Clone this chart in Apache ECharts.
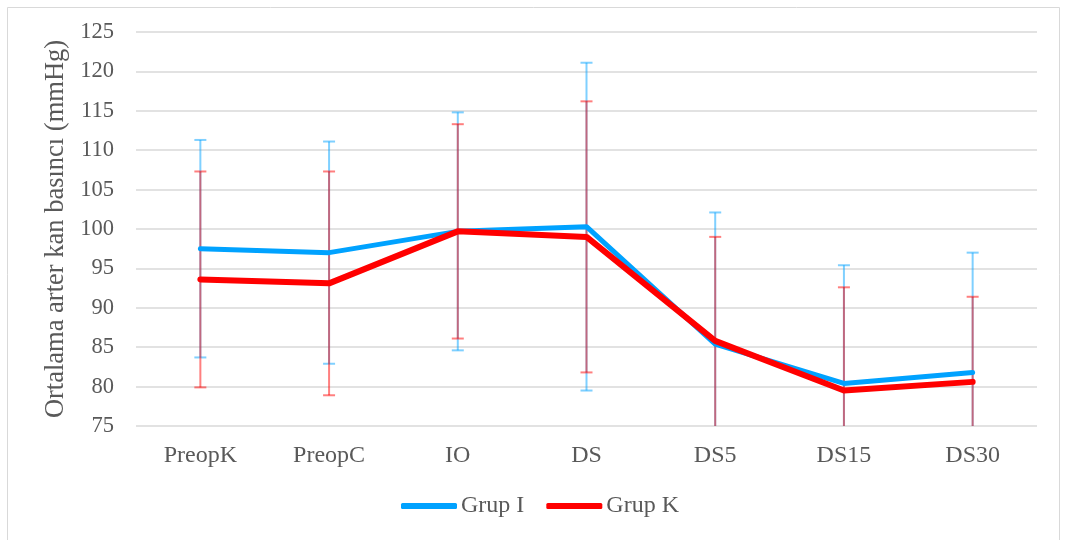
<!DOCTYPE html>
<html>
<head>
<meta charset="utf-8">
<script src="https://cdn.jsdelivr.net/npm/echarts@6/dist/echarts.min.js"></script>
<style>
  html, body { margin: 0; padding: 0; background: #fff; }
  #chart { width: 1066px; height: 540px; }
</style>
</head>
<body>
<div id="chart"></div>
<script>
// Measurement times
const categories = ['PreopK', 'PreopC', 'IO', 'DS', 'DS5', 'DS15', 'DS30'];

// Mean arterial pressure (mmHg), group means
const grupIMean = [97.5, 97.0, 99.7, 100.3, 85.4, 80.4, 81.8];
const grupKMean = [93.6, 93.1, 99.7, 99.0, 85.8, 79.5, 80.6];

// Standard deviations (error bar half-lengths)
const grupISd = [13.8, 14.1, 15.1, 20.8, 16.7, 15.0, 15.2];
const grupKSd = [13.7, 14.2, 13.6, 17.2, 13.2, 13.1, 10.8];

// Y axis range and step
const yMin = 75, yMax = 125, yStep = 5;

const FONT = '"Liberation Serif", "DejaVu Serif", serif';
const BLUE = '#00a2ff';
const RED = '#ff0000';

function errorBarSeries(means, sds, color) {
  return {
    type: 'custom',
    silent: true,
    clip: true,
    z: 1,
    data: means.map((m, i) => [i, m + sds[i], m - sds[i]]),
    renderItem: function (params, api) {
      const idx = api.value(0);
      const top = api.coord([idx, api.value(1)]);
      const bot = api.coord([idx, api.value(2)]);
      const half = 6;
      const style = { stroke: color, lineWidth: 2, opacity: 0.5 };
      return {
        type: 'group',
        children: [
          { type: 'line', shape: { x1: top[0], y1: top[1], x2: bot[0], y2: bot[1] }, style: style },
          { type: 'line', shape: { x1: top[0] - half, y1: top[1], x2: top[0] + half, y2: top[1] }, style: style },
          { type: 'line', shape: { x1: bot[0] - half, y1: bot[1], x2: bot[0] + half, y2: bot[1] }, style: style }
        ]
      };
    }
  };
}

const chart = echarts.init(document.getElementById('chart'), null, { renderer: 'canvas' });

chart.setOption({
  animation: false,
  backgroundColor: '#ffffff',
  graphic: [{
    type: 'rect',
    shape: { x: 7.5, y: 7.5, width: 1052, height: 545 },
    style: { fill: 'none', stroke: '#d9d9d9', lineWidth: 1 },
    silent: true,
    z: -10
  }],
  grid: { left: 136, right: 29, top: 32, bottom: 114 },
  legend: {
    bottom: 17,
    left: 396,
    icon: 'roundRect',
    itemWidth: 56,
    itemHeight: 6,
    itemGap: 22,
    textStyle: { fontFamily: FONT, fontSize: 24, color: '#595959', padding: [0, 0, 0, -1] },
    data: ['Grup I', 'Grup K']
  },
  xAxis: {
    type: 'category',
    data: categories,
    boundaryGap: true,
    axisLine: { show: false },
    axisTick: { show: false },
    axisLabel: { fontFamily: FONT, fontSize: 24, color: '#595959', margin: 18 }
  },
  yAxis: {
    type: 'value',
    min: yMin,
    max: yMax,
    interval: yStep,
    name: 'Ortalama arter kan basıncı (mmHg)',
    nameLocation: 'middle',
    nameRotate: 90,
    nameGap: 62,
    nameTextStyle: { fontFamily: FONT, fontSize: 26.5, color: '#595959' },
    axisLine: { show: false },
    axisTick: { show: false },
    axisLabel: { fontFamily: FONT, fontSize: 22.5, color: '#595959', margin: 22 },
    splitLine: { lineStyle: { color: '#d9d9d9', width: 1.5 } }
  },
  series: [
    errorBarSeries(grupIMean, grupISd, BLUE),
    errorBarSeries(grupKMean, grupKSd, RED),
    {
      name: 'Grup I',
      type: 'line',
      data: grupIMean,
      symbol: 'none',
      z: 3,
      lineStyle: { color: BLUE, width: 5, cap: 'round', join: 'round' },
      itemStyle: { color: BLUE }
    },
    {
      name: 'Grup K',
      type: 'line',
      data: grupKMean,
      symbol: 'none',
      z: 4,
      lineStyle: { color: RED, width: 6, cap: 'round', join: 'round' },
      itemStyle: { color: RED }
    }
  ]
});
</script>
</body>
</html>
